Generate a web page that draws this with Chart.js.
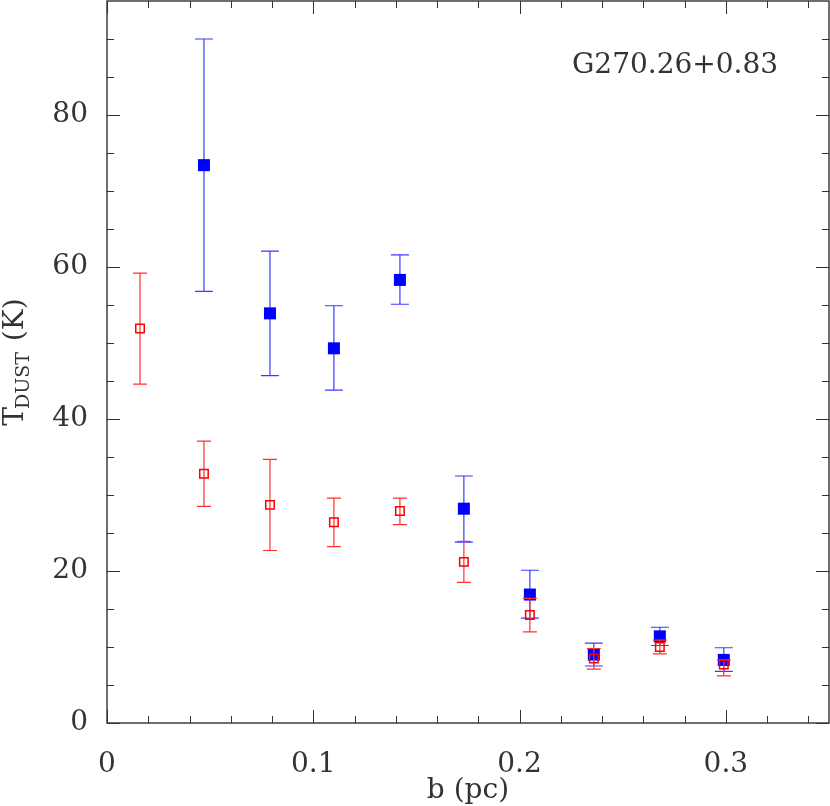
<!DOCTYPE html>
<html>
<head>
<meta charset="utf-8">
<script src="https://cdn.jsdelivr.net/npm/chart.js@4.4.1/dist/chart.umd.min.js"></script>
<style>
  html, body { margin: 0; padding: 0; background: #fff; }
  #wrap { width: 830px; height: 806px; }
</style>
</head>
<body>
<div id="wrap"><canvas id="dustChart"></canvas></div>
<script>
// radial bins (pc)
const bRed = [0.016, 0.047, 0.079, 0.110, 0.142, 0.173, 0.205, 0.236, 0.268, 0.299];
const tRed = [51.9, 32.8, 28.7, 26.4, 27.9, 21.2, 14.2, 8.5, 10.0, 7.7];
const tRedHi = [59.2, 37.1, 34.7, 29.6, 29.6, 23.9, 16.4, 9.8, 10.9, 8.3];
const tRedLo = [44.6, 28.5, 22.7, 23.2, 26.1, 18.5, 12.0, 7.1, 9.1, 6.2];

const bBlue = [0.047, 0.079, 0.110, 0.142, 0.173, 0.205, 0.236, 0.268, 0.299];
const tBlue = [73.4, 53.9, 49.3, 58.3, 28.2, 16.9, 9.0, 11.4, 8.3];
const tBlueHi = [90.0, 62.1, 54.9, 61.6, 32.5, 20.1, 10.5, 12.6, 9.9];
const tBlueLo = [56.8, 45.7, 43.8, 55.1, 23.8, 13.8, 7.5, 10.2, 6.8];

const xTicks = [0, 0.1, 0.2, 0.3];
const xMinor = [0.02, 0.04, 0.06, 0.08, 0.12, 0.14, 0.16, 0.18, 0.22, 0.24, 0.26, 0.28, 0.32, 0.34];
const yTicks = [0, 20, 40, 60, 80];
const yMinor = [5, 10, 15, 25, 30, 35, 45, 50, 55, 65, 70, 75, 85, 90];

const sourceName = 'G270.26+0.83';
const FONT = '"DejaVu Serif", "Liberation Serif", serif';
const INK = '#333';

const toPoints = (xs, ys) => xs.map((x, i) => ({ x: x, y: ys[i] }));

const errorBars = {
    id: 'errorBars',
    beforeDatasetDraw(chart, args) {
        const ds = chart.data.datasets[args.index];
        if (!ds.errLo) return;
        const { ctx, scales: { x, y } } = chart;
        ctx.save();
        ctx.strokeStyle = ds.errColor;
        ctx.lineWidth = 1.2;
        ds.data.forEach((p, i) => {
            const px = x.getPixelForValue(p.x);
            const lo = y.getPixelForValue(ds.errLo[i]);
            const hi = y.getPixelForValue(ds.errHi[i]);
            const w = ds.capHalf;
            ctx.beginPath();
            ctx.moveTo(px, lo); ctx.lineTo(px, hi);
            ctx.moveTo(px - w, lo); ctx.lineTo(px + w, lo);
            ctx.moveTo(px - w, hi); ctx.lineTo(px + w, hi);
            ctx.stroke();
        });
        ctx.restore();
    }
};

const frameAndLabels = {
    id: 'frameAndLabels',
    afterDraw(chart) {
        const { ctx, chartArea: a, scales: { x, y } } = chart;
        ctx.save();
        ctx.strokeStyle = INK;
        ctx.lineWidth = 1.4;
        ctx.strokeRect(a.left, a.top, a.right - a.left, a.bottom - a.top);

        ctx.lineWidth = 1;
        ctx.beginPath();
        const xt = (v, len) => {
            const px = Math.round(x.getPixelForValue(v)) + 0.5;
            ctx.moveTo(px, a.bottom); ctx.lineTo(px, a.bottom - len);
            ctx.moveTo(px, a.top); ctx.lineTo(px, a.top + len);
        };
        const yt = (v, len) => {
            const py = Math.round(y.getPixelForValue(v)) + 0.5;
            ctx.moveTo(a.left, py); ctx.lineTo(a.left + len, py);
            ctx.moveTo(a.right, py); ctx.lineTo(a.right - len, py);
        };
        xTicks.forEach(v => xt(v, 13));
        xMinor.forEach(v => xt(v, 7));
        yTicks.forEach(v => yt(v, 13));
        yMinor.forEach(v => yt(v, 7));
        ctx.stroke();

        ctx.fillStyle = INK;
        ctx.font = '28px ' + FONT;
        ctx.textBaseline = 'alphabetic';
        ctx.textAlign = 'left';
        ctx.fillText(sourceName, 572, 73);

        // x title
        ctx.textAlign = 'center';
        ctx.fillText('b (pc)', (a.left + a.right) / 2, 798);

        // y title with subscript
        ctx.translate(23, (a.top + a.bottom) / 2);
        ctx.rotate(-Math.PI / 2);
        ctx.textAlign = 'left';
        ctx.font = '28px ' + FONT;
        const wT = ctx.measureText('T').width;
        const wK = ctx.measureText(' (K)').width;
        ctx.font = '19px ' + FONT;
        const wD = ctx.measureText('DUST').width;
        let cx = -(wT + wD + wK) / 2;
        ctx.font = '28px ' + FONT;
        ctx.fillText('T', cx, 0);
        cx += wT - 2;
        ctx.font = '19px ' + FONT;
        ctx.fillText('DUST', cx, 6);
        cx += wD + 2;
        ctx.font = '28px ' + FONT;
        ctx.fillText(' (K)', cx, 0);
        ctx.restore();
    }
};

new Chart(document.getElementById('dustChart'), {
    type: 'scatter',
    data: {
        datasets: [
            {
                label: 'open',
                data: toPoints(bRed, tRed),
                errLo: tRedLo, errHi: tRedHi, errColor: '#ff3030', capHalf: 7,
                pointStyle: 'rect',
                pointRadius: 6,
                backgroundColor: 'rgba(255,255,255,0)',
                borderColor: '#ff0000',
                borderWidth: 1.5,
                order: 1
            },
            {
                label: 'filled',
                data: toPoints(bBlue, tBlue),
                errLo: tBlueLo, errHi: tBlueHi, errColor: '#3b3bff', capHalf: 9,
                pointStyle: 'rect',
                pointRadius: 8.5,
                backgroundColor: '#0000ff',
                borderColor: '#0000ff',
                borderWidth: 0,
                order: 2
            }
        ]
    },
    options: {
        responsive: true,
        maintainAspectRatio: false,
        animation: false,
        layout: { autoPadding: false, padding: { top: 1, right: 1, left: 0, bottom: 0 } },
        plugins: {
            legend: { display: false },
            tooltip: { enabled: false }
        },
        scales: {
            x: {
                type: 'linear',
                min: 0,
                max: 0.35,
                grid: { display: false, drawTicks: false },
                border: { display: false },
                afterBuildTicks: s => { s.ticks = xTicks.map(v => ({ value: v })); },
                afterFit: s => { s.height = 83; s.paddingLeft = 0; s.paddingRight = 0; },
                ticks: {
                    font: { family: FONT, size: 28 },
                    color: INK,
                    padding: 25,
                    maxRotation: 0,
                    callback: v => String(+v.toFixed(2))
                }
            },
            y: {
                type: 'linear',
                min: 0,
                max: 95,
                grid: { display: false, drawTicks: false },
                border: { display: false },
                afterBuildTicks: s => { s.ticks = yTicks.map(v => ({ value: v })); },
                afterFit: s => { s.width = 107; s.paddingTop = 0; s.paddingBottom = 0; },
                ticks: {
                    font: { family: FONT, size: 28 },
                    color: INK,
                    padding: 19
                }
            }
        }
    },
    plugins: [errorBars, frameAndLabels]
});
</script>
</body>
</html>
